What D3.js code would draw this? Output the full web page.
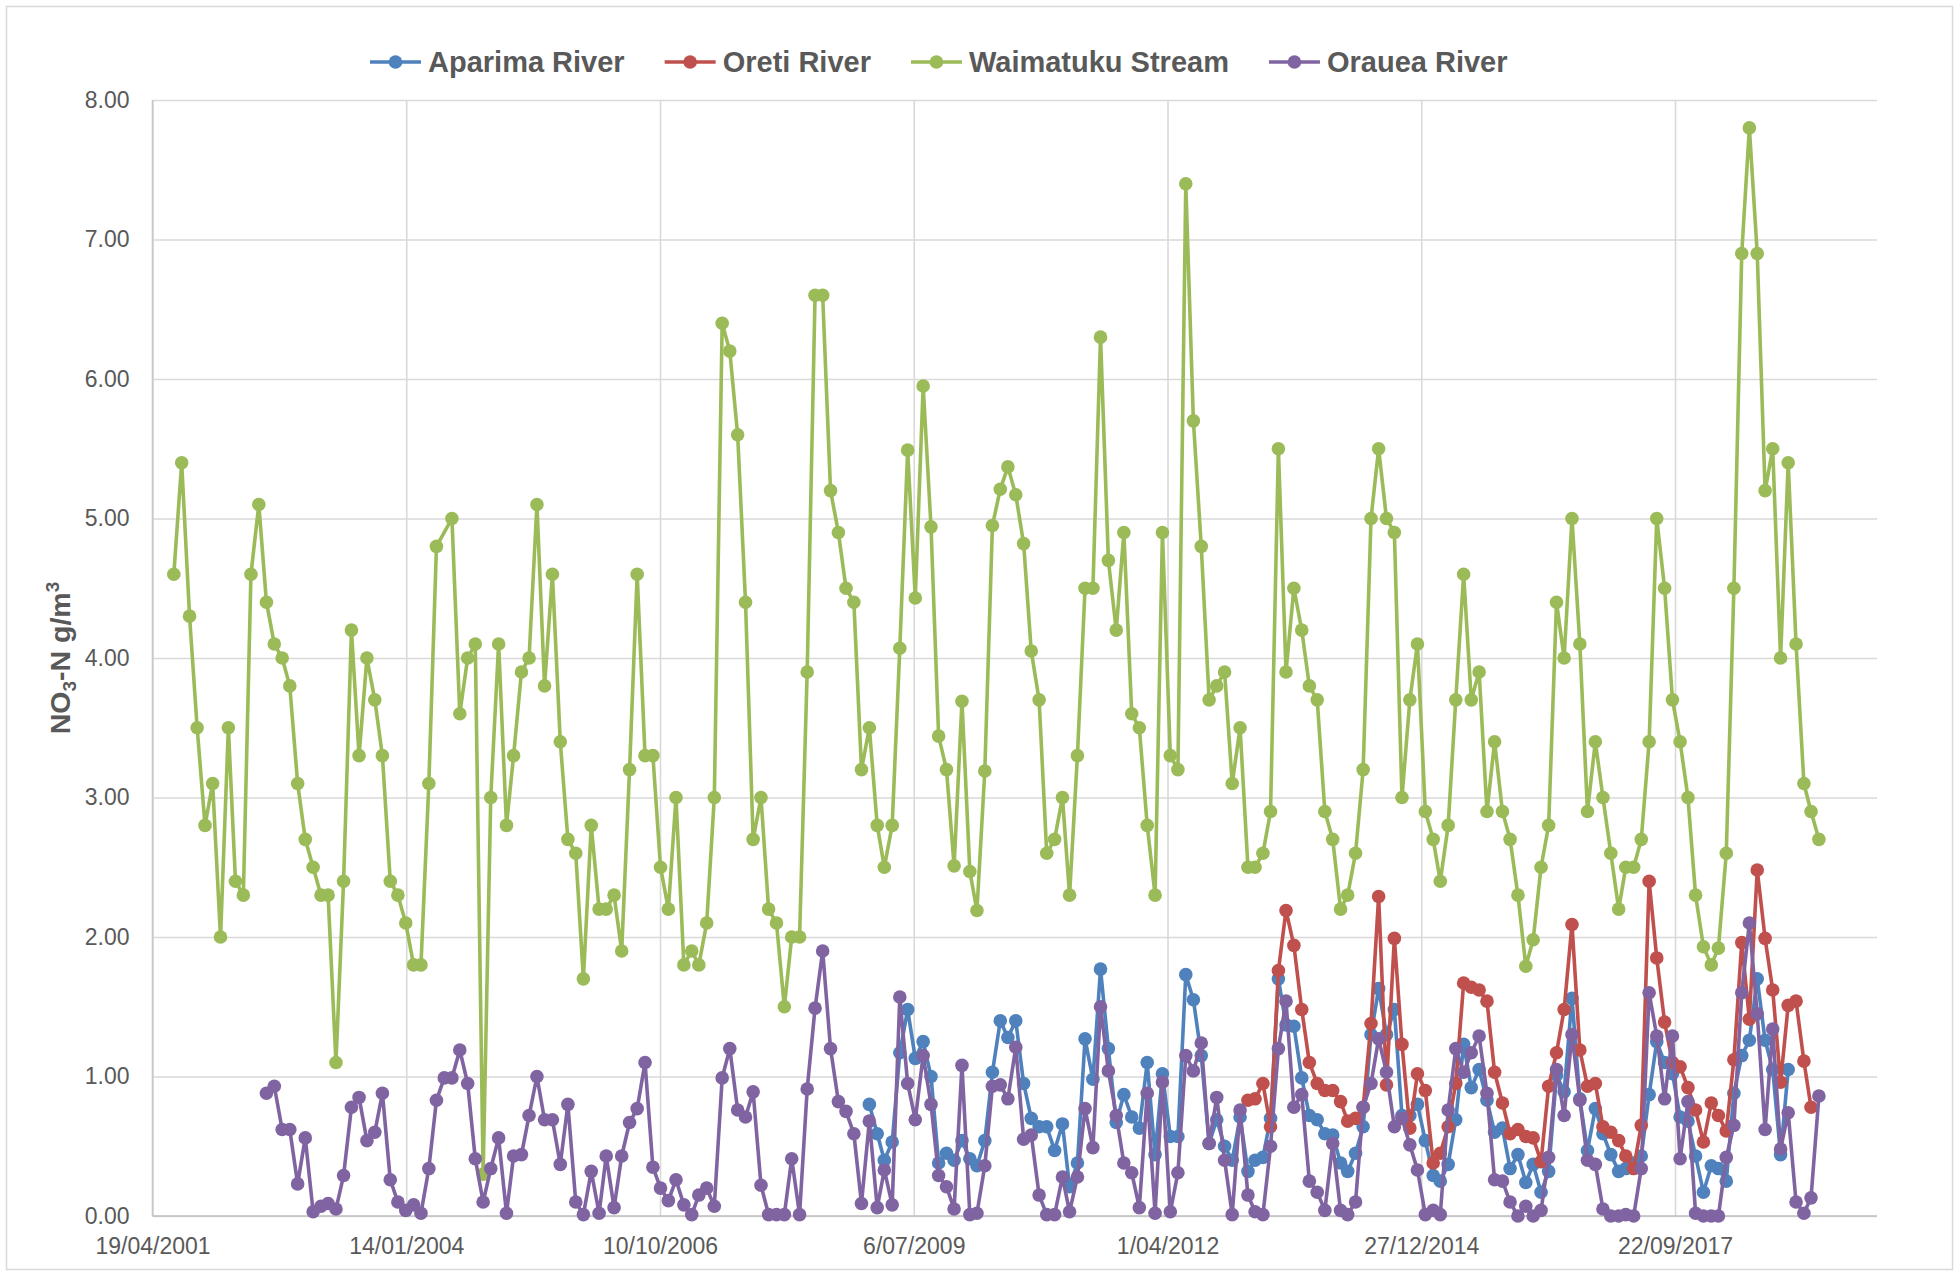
<!DOCTYPE html>
<html><head><meta charset="utf-8">
<script src="https://cdn.jsdelivr.net/npm/d3@7"></script>
<style>
body{margin:0;background:#fff;}
svg{display:block;}
text{font-family:"Liberation Sans",Arial,sans-serif;}
</style>
</head><body>
<svg id="chart" width="1959" height="1276"></svg>
<script>
// ---------- data ----------
const seriesNames = ["Aparima River", "Oreti River", "Waimatuku Stream", "Orauea River"];
const xTickLabels = ["19/04/2001", "14/01/2004", "10/10/2006", "6/07/2009", "1/04/2012", "27/12/2014", "22/09/2017"];
const xAxisEnd = "27/11/2019";
const yTickLabels = ["0.00", "1.00", "2.00", "3.00", "4.00", "5.00", "6.00", "7.00", "8.00"];

// monthly samples; each series starts at the given month
const waimatukuStart = "2001-07";
const waimatuku = [
  4.6, 5.4, 4.3, 3.5, 2.8, 3.1, 2.0, 3.5, 2.4, 2.3, 4.6, 5.1, 4.4, 4.1, 4.0, 3.8, 3.1, 2.7, 2.5, 2.3,
  2.3, 1.1, 2.4, 4.2, 3.3, 4.0, 3.7, 3.3, 2.4, 2.3, 2.1, 1.8, 1.8, 3.1, 4.8, null,
  5.0, 3.6, 4.0, 4.1, 0.3, 3.0, 4.1, 2.8, 3.3, 3.9, 4.0, 5.1, 3.8, 4.6, 3.4, 2.7, 2.6, 1.7, 2.8, 2.2,
  2.2, 2.3, 1.9, 3.2, 4.6, 3.3, 3.3, 2.5, 2.2, 3.0, 1.8, 1.9, 1.8, 2.1, 3.0, 6.4, 6.2, 5.6, 4.4,
  2.7, 3.0, 2.2, 2.1, 1.5, 2.0, 2.0, 3.9, 6.6, 6.6, 5.2, 4.9, 4.5, 4.4, 3.2, 3.5, 2.8, 2.5, 2.8, 4.07,
  5.49, 4.43, 5.95, 4.94, 3.44, 3.20, 2.51, 3.69, 2.47, 2.19, 3.19, 4.95, 5.21, 5.37, 5.17, 4.82, 4.05,
  3.7, 2.6, 2.7, 3.0, 2.3, 3.3, 4.5, 4.5, 6.3, 4.7, 4.2, 4.9, 3.6, 3.5, 2.8, 2.3, 4.9, 3.3, 3.2, 7.4,
  5.7, 4.8, 3.7, 3.8, 3.9, 3.1, 3.5, 2.5, 2.5, 2.6, 2.9, 5.5, 3.9, 4.5, 4.2, 3.8, 3.7, 2.9,
  2.7, 2.2, 2.3, 2.6, 3.2, 5.0, 5.5, 5.0, 4.9, 3.0, 3.7, 4.1, 2.9, 2.7, 2.4, 2.8, 3.7, 4.6, 3.7, 3.9,
  2.9, 3.4, 2.9, 2.7, 2.3, 1.79, 1.98, 2.5, 2.8, 4.4, 4.0, 5.0, 4.1, 2.9, 3.4, 3.0, 2.6,
  2.2, 2.5, 2.5, 2.7, 3.4, 5.0, 4.5, 3.7, 3.4, 3.0, 2.3, 1.93, 1.8, 1.92, 2.6, 4.5, 6.9, 7.8, 6.9, 5.2,
  5.5, 4.0, 5.4, 4.1, 3.1, 2.9, 2.7
];

const oraueaStart = "2002-07";
const orauea = [
  0.88, 0.93, 0.62, 0.62, 0.23, 0.56, 0.03, 0.07, 0.09, 0.05, 0.29, 0.78, 0.85, 0.54, 0.60, 0.88, 0.26, 0.10, 0.04, 0.08,
  0.02, 0.34, 0.83, 0.99, 0.99, 1.19, 0.95, 0.41, 0.10, 0.34, 0.56, 0.02, 0.43, 0.44, 0.72, 1.00, 0.69, 0.69, 0.37, 0.80,
  0.10, 0.01, 0.32,
  0.02, 0.43, 0.06, 0.43, 0.67, 0.77, 1.10, 0.35, 0.20, 0.11, 0.26, 0.08, 0.01, 0.15, 0.20, 0.07, 0.99, 1.20, 0.76, 0.71,
  0.89, 0.22, 0.01, 0.01, 0.01, 0.41, 0.01, 0.91, 1.49, 1.90, 1.20, 0.82, 0.75, 0.59, 0.09, 0.68, 0.06, 0.33, 0.08, 1.57,
  0.95, 0.69,
  1.15, 0.80, 0.29, 0.21, 0.05, 1.08, 0.01, 0.02, 0.36, 0.93, 0.94, 0.84, 1.21, 0.55, 0.58, 0.15, 0.01, 0.01, 0.28, 0.03,
  0.28, 0.77, 0.49, 1.50, 1.04, 0.72, 0.38, 0.31, 0.06, 0.88, 0.02,
  0.96, 0.03, 0.31, 1.15, 1.04, 1.24, 0.52, 0.85, 0.40, 0.01, 0.76, 0.15, 0.03, 0.01, 0.50, 1.20, 1.54, 0.78, 0.87, 0.25,
  0.17, 0.04, 0.52, 0.04, 0.01, 0.10, 0.78, 0.95, 1.27, 1.03, 0.64, 0.70, 0.51, 0.33,
  0.01, 0.04, 0.01, 0.76, 1.20, 1.03, 1.17, 1.29, 0.88, 0.26, 0.25, 0.10, 0.00, 0.07, 0.00, 0.04, 0.42, 1.05, 0.72, 1.30,
  0.83, 0.40, 0.37, 0.05, 0.00, 0.00, 0.01, 0.00, 0.34, 1.60, 1.29, 0.84, 1.29, 0.41, 0.82, 0.02, 0.00, 0.00, 0.00, 0.42,
  0.65, 1.60, 2.10, 1.45, 0.62, 1.34, 0.48, 0.74, 0.10, 0.02, 0.13, 0.86
];

const aparimaStart = "2009-01";
const aparima = [
  0.80, 0.59, 0.40, 0.53, 1.17, 1.48, 1.13, 1.25, 1.00, 0.38, 0.45, 0.40, 0.54, 0.41, 0.36, 0.54, 1.03, 1.40, 1.28, 1.40,
  0.95, 0.70, 0.64, 0.64, 0.47, 0.66, 0.21, 0.38, 1.27, 0.98, 1.77, 1.20, 0.67, 0.87, 0.71, 0.63, 1.10, 0.44, 1.02, 0.57,
  0.57, 1.73, 1.55, 1.15, 0.52, 0.69, 0.50, 0.40, 0.71, 0.32, 0.40, 0.42, 0.70,
  1.70, 1.37, 1.36, 0.99, 0.72, 0.69, 0.59, 0.58, 0.38, 0.32, 0.45, 0.64, 1.30, 1.63, 1.30, 1.48, 0.72, 0.72, 0.80, 0.54,
  0.29, 0.25, 0.37, 0.69, 1.23, 0.92, 1.05, 0.83, 0.60, 0.63, 0.34, 0.44, 0.24, 0.37, 0.17, 0.32, 1.01, 0.89, 1.56, 0.84,
  0.47, 0.77, 0.59, 0.44, 0.32, 0.34, 0.38, 0.43, 0.87, 1.25, 1.10, 1.02, 0.71, 0.68, 0.43, 0.17, 0.36, 0.34, 0.25, 0.88,
  1.15, 1.26, 1.70, 1.26, 1.05, 0.44, 1.05
];

const oretiStart = "2013-02";
const oreti = [
  0.83, 0.84, 0.95, 0.64, 1.76, 2.19, 1.94, 1.48, 1.10, 0.95, 0.90, 0.90, 0.82, 0.68, 0.70, 0.78, 1.38, 2.29, 0.94, 1.99,
  1.23, 0.63, 1.02,
  0.90, 0.38, 0.45, 0.64, 0.95, 1.67, 1.64, 1.62, 1.54, 1.03, 0.81, 0.59, 0.62, 0.57, 0.56, 0.39, 0.93, 1.17, 1.48, 2.09,
  1.19, 0.93, 0.95,
  0.64, 0.60, 0.54, 0.43, 0.34, 0.65, 2.40, 1.85, 1.39, 1.10, 1.07, 0.92, 0.76, 0.53, 0.81, 0.72, 0.61, 1.12, 1.96, 1.41,
  2.48, 1.99, 1.62, 0.96, 1.51, 1.54, 1.11, 0.78
];

const seriesColors = ["#4F81BD", "#C0504D", "#9BBB59", "#8064A2"];

// ---------- build ----------
const parseD = d3.timeParse("%d/%m/%Y");
const parseM = d3.timeParse("%Y-%m");
function sampleDate(start, i) {
  const s = parseM(start);
  return new Date(s.getFullYear(), s.getMonth() + i, 12);
}
function toPoints(start, arr) {
  return arr.map((v, i) => ({ date: sampleDate(start, i), v })).filter(d => d.v !== null);
}
const series = [
  { name: seriesNames[0], color: seriesColors[0], pts: toPoints(aparimaStart, aparima) },
  { name: seriesNames[1], color: seriesColors[1], pts: toPoints(oretiStart, oreti) },
  { name: seriesNames[2], color: seriesColors[2], pts: toPoints(waimatukuStart, waimatuku) },
  { name: seriesNames[3], color: seriesColors[3], pts: toPoints(oraueaStart, orauea) }
];

const W = 1959, H = 1276;
const M = { left: 152.5, right: 1877, top: 100, bottom: 1216 };
const R = 6.8, SW = 3.6;
const svg = d3.select("#chart");

svg.append("rect").attr("x", 6.5).attr("y", 6.5).attr("width", W - 13).attr("height", H - 13)
  .attr("fill", "#fff").attr("stroke", "#d9d9d9").attr("stroke-width", 1.5);

const xTicks = xTickLabels.map(parseD);
const x = d3.scaleTime().domain([parseD(xTickLabels[0]), parseD(xAxisEnd)]).range([M.left, M.right]);
const y = d3.scaleLinear().domain([0, 8]).range([M.bottom, M.top]);
const yTicks = yTickLabels.map(Number);

// horizontal grid
svg.append("g").attr("transform", `translate(${M.left},0)`)
  .call(d3.axisLeft(y).tickValues(yTicks).tickSize(-(M.right - M.left)).tickFormat(""))
  .call(g => g.select(".domain").remove())
  .call(g => g.selectAll("line").attr("stroke", "#d9d9d9").attr("stroke-width", 1.6));

// vertical grid
svg.append("g").attr("transform", `translate(0,${M.bottom})`)
  .call(d3.axisBottom(x).tickValues(xTicks).tickSize(-(M.bottom - M.top)).tickFormat(""))
  .call(g => g.select(".domain").remove())
  .call(g => g.selectAll("line").attr("stroke", "#d9d9d9").attr("stroke-width", 1.6));

// axis lines
svg.append("line").attr("x1", M.left).attr("x2", M.left).attr("y1", M.top).attr("y2", M.bottom)
  .attr("stroke", "#c8c8c8").attr("stroke-width", 1.6);
svg.append("line").attr("x1", M.left).attr("x2", M.right).attr("y1", M.bottom).attr("y2", M.bottom)
  .attr("stroke", "#bfbfbf").attr("stroke-width", 1.6);

// y axis labels
svg.append("g").attr("transform", `translate(${M.left},0)`)
  .call(d3.axisLeft(y).tickValues(yTicks).tickSize(0).tickPadding(23).tickFormat((d, i) => yTickLabels[i]))
  .call(g => g.select(".domain").remove())
  .call(g => g.selectAll("text").attr("fill", "#595959").style("font-size", "23px")
    .style("font-family", '"Liberation Sans", Arial, sans-serif'));

// x axis labels
svg.append("g").attr("transform", `translate(0,${M.bottom})`)
  .call(d3.axisBottom(x).tickValues(xTicks).tickSize(0).tickPadding(22).tickFormat((d, i) => xTickLabels[i]))
  .call(g => g.select(".domain").remove())
  .call(g => g.selectAll("text").attr("fill", "#595959").style("font-size", "23px")
    .style("font-family", '"Liberation Sans", Arial, sans-serif'));

// y title
const yt = svg.append("text").attr("transform", `translate(70,${(M.top + M.bottom) / 2}) rotate(-90)`)
  .attr("text-anchor", "middle").attr("fill", "#595959").style("font-weight", "bold").style("font-size", "28.5px");
yt.append("tspan").text("NO");
yt.append("tspan").text("3").style("font-size", "19px").attr("dy", 6);
yt.append("tspan").text("-N g/m").attr("dy", -6);
yt.append("tspan").text("3").style("font-size", "19px").attr("dy", -11);

// lines and markers
const line = d3.line().x(d => x(d.date)).y(d => y(d.v));
series.forEach(s => {
  const g = svg.append("g");
  g.append("path").datum(s.pts).attr("d", line).attr("fill", "none")
    .attr("stroke", s.color).attr("stroke-width", SW).attr("stroke-linejoin", "round");
  g.selectAll("circle").data(s.pts).join("circle")
    .attr("cx", d => x(d.date)).attr("cy", d => y(d.v)).attr("r", R).attr("fill", s.color);
});

// legend
const lg = svg.append("g");
let lx = 370;
const ly = 62;
series.forEach(s => {
  const it = lg.append("g");
  it.append("line").attr("x1", lx).attr("x2", lx + 51).attr("y1", ly).attr("y2", ly)
    .attr("stroke", s.color).attr("stroke-width", SW);
  it.append("circle").attr("cx", lx + 25.5).attr("cy", ly).attr("r", R).attr("fill", s.color);
  const t = it.append("text").attr("x", lx + 58).attr("y", ly).attr("dy", "0.36em")
    .attr("fill", "#595959").style("font-weight", "bold").style("font-size", "29px").text(s.name);
  lx = lx + 58 + t.node().getComputedTextLength() + 40;
});
</script>
</body></html>
